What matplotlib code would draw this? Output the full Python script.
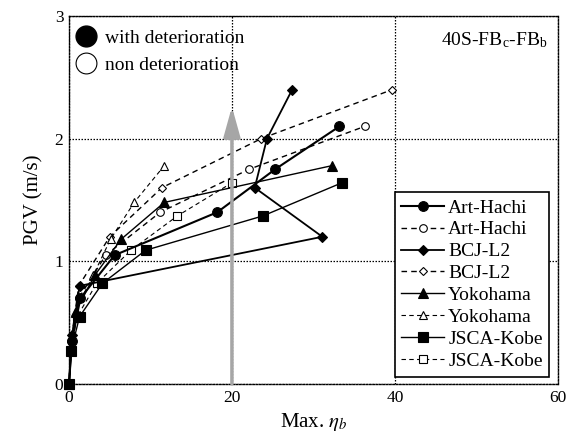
import numpy as np
import matplotlib
matplotlib.use("Agg")
import matplotlib.pyplot as plt
from matplotlib.lines import Line2D

plt.rcParams['font.family'] = ['Liberation Serif', 'DejaVu Serif']
plt.rcParams['mathtext.fontset'] = 'stix'

# PGV levels for each record (m/s)
pgv_art = [0, 0.35, 0.70, 1.05, 1.40, 1.75, 2.10]
pgv_bcj = [0, 0.40, 0.80, 1.20, 1.60, 2.00, 2.40]
pgv_yok = [0, 0.30, 0.59, 0.89, 1.18, 1.48, 1.78]
pgv_kob = [0, 0.27, 0.55, 0.82, 1.09, 1.37, 1.64]

# max. beam ductility, with / without deterioration
eta_art_det = [0, 0.35, 1.4, 5.6, 18.2, 25.3, 33.2]
eta_art_non = [0, 0.30, 1.2, 4.5, 11.2, 22.1, 36.3]
eta_bcj_det = [0, 0.40, 1.3, 31.1, 22.8, 24.3, 27.4]
eta_bcj_non = [0, 0.35, 1.2, 5.0, 11.4, 23.6, 39.7]
eta_yok_det = [0, 0.30, 0.8, 3.2, 6.4, 11.7, 32.3]
eta_yok_non = [0, 0.25, 0.7, 3.0, 5.1, 8.0, 11.7]
eta_kob_det = [0, 0.25, 1.3, 4.1, 9.4, 23.8, 33.5]
eta_kob_non = [0, 0.20, 1.0, 3.4, 7.6, 13.3, 20.0]

fig = plt.figure(figsize=(5.68, 4.43), dpi=100)
ax = fig.add_axes([0.1215, 0.1332, 0.8605, 0.8308])

series = [
    (eta_art_non, pgv_art, '--', 'o', 'w', 1.0, 5.5, 'Art-Hachi'),
    (eta_bcj_non, pgv_bcj, '--', 'D', 'w', 1.0, 4.5, 'BCJ-L2'),
    (eta_yok_non, pgv_yok, '--', '^', 'w', 0.8, 5.5, 'Yokohama'),
    (eta_kob_non, pgv_kob, '--', 's', 'w', 0.8, 6.0, 'JSCA-Kobe'),
    (eta_art_det, pgv_art, '-', 'o', 'k', 1.5, 7.0, 'Art-Hachi'),
    (eta_bcj_det, pgv_bcj, '-', 'D', 'k', 1.3, 5.0, 'BCJ-L2'),
    (eta_yok_det, pgv_yok, '-', '^', 'k', 1.0, 6.5, 'Yokohama'),
    (eta_kob_det, pgv_kob, '-', 's', 'k', 1.0, 7.0, 'JSCA-Kobe'),
]

lines = []
for xs, ys, ls, mk, fc, lw, ms, name in series:
    h, = ax.plot(xs, ys, linestyle=ls, marker=mk, color='k', markerfacecolor=fc,
                 markeredgecolor='k', markeredgewidth=0.8, lw=lw, ms=ms,
                 label=name, zorder=2, clip_on=False,
                 dashes=(4, 3) if ls == '--' else (None, None))
    lines.append(h)

# legend order: solid then dashed per record
handles = [lines[4], lines[0], lines[5], lines[1], lines[6], lines[2], lines[7], lines[3]]

# grey arrow at eta = 20
ax.annotate('', xy=(20, 2.26), xytext=(20, 0),
            arrowprops=dict(arrowstyle='-|>,head_width=0.5,head_length=1.8',
                            color='#a6a6a6', lw=2.5, shrinkA=0, shrinkB=0),
            zorder=3)

ax.set_xlim(0, 60)
ax.set_ylim(0, 3)
ax.set_xticks([0, 20, 40, 60])
ax.set_yticks([0, 1, 2, 3])
ax.tick_params(length=0, labelsize=12.5, pad=4)
ax.grid(True, linestyle=(0, (1.2, 1.2)), color='k', lw=0.9)
ax.set_axisbelow(True)
for sp in ax.spines.values():
    sp.set_linestyle((0, (1.2, 1.2)))
    sp.set_linewidth(1.0)

ax.set_xlabel('Max. $\\eta_b$', fontsize=15, labelpad=4)
ax.set_ylabel('PGV (m/s)', fontsize=15, labelpad=8)

ax.text(0.98, 0.935, '40S-FB$_\\mathregular{c}$-FB$_\\mathregular{b}$',
        transform=ax.transAxes, ha='right', va='center', fontsize=14)

# deterioration key
key = [Line2D([], [], ls='none', marker='o', ms=15, mfc='k', mec='k'),
       Line2D([], [], ls='none', marker='o', ms=15, mfc='w', mec='k', mew=0.8)]
leg1 = ax.legend(key, ['with deterioration', 'non deterioration'],
                 loc='upper left', bbox_to_anchor=(-0.012, 1.0), frameon=False,
                 fontsize=14, handlelength=1.0, handletextpad=0.45,
                 labelspacing=0.45, borderaxespad=0.3)
ax.add_artist(leg1)

leg2 = ax.legend(handles=handles, loc='lower right', bbox_to_anchor=(0.983, 0.02),
                 fontsize=14, frameon=True, fancybox=False, edgecolor='k',
                 framealpha=1, handlelength=2.2, handletextpad=0.2,
                 labelspacing=0.22, borderpad=0.35, borderaxespad=0)
leg2.get_frame().set_linewidth(1.2)

fig.savefig('out.png', dpi=100)
